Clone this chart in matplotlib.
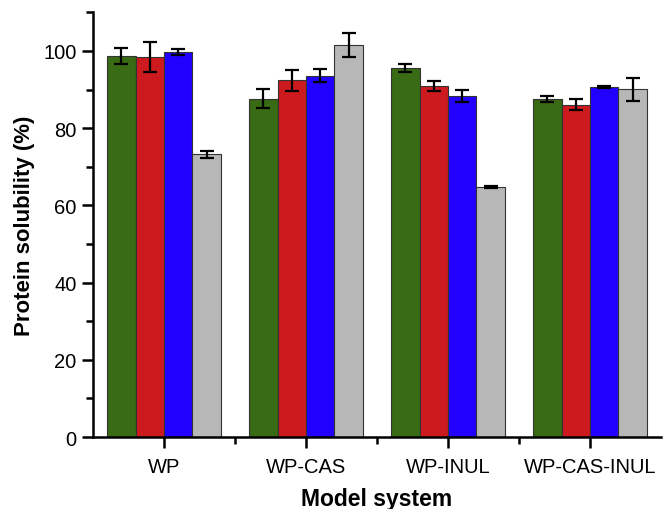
import matplotlib
matplotlib.use("Agg")
import matplotlib.pyplot as plt
import numpy as np
from matplotlib.ticker import FixedLocator

plt.rcParams['font.family'] = ['Liberation Sans', 'DejaVu Sans']

categories = ["WP", "WP-CAS", "WP-INUL", "WP-CAS-INUL"]
s1 = [98.7, 87.6, 95.5, 87.5]
s1_err = [2.0, 2.5, 1.0, 0.7]
s2 = [98.4, 92.4, 90.9, 86.1]
s2_err = [3.8, 2.7, 1.2, 1.5]
s3 = [99.7, 93.6, 88.3, 90.6]
s3_err = [0.7, 1.6, 1.6, 0.3]
s4 = [73.2, 101.5, 64.7, 90.1]
s4_err = [0.9, 3.2, 0.3, 3.0]

colors = ["#386b14", "#cc1a1e", "#2200ff", "#b7b7b7"]
series = [(s1, s1_err), (s2, s2_err), (s3, s3_err), (s4, s4_err)]

fig = plt.figure(figsize=(6.65, 5.10), dpi=100)
ax = fig.add_axes([0.140, 0.141, 0.854, 0.833])

x = np.arange(len(categories))
w = 0.2
for i, ((vals, errs), c) in enumerate(zip(series, colors)):
    ax.bar(x + (i - 1.5) * w, vals, width=w, color=c, edgecolor="#333333",
           linewidth=0.8, yerr=errs, capsize=5,
           error_kw=dict(ecolor="black", elinewidth=1.6, capthick=1.6), zorder=2)

ax.set_xlim(-0.5, 3.5)
ax.set_ylim(0, 110)
ax.set_xticks(x)
ax.set_xticklabels(categories, fontsize=14.5)
ax.xaxis.set_minor_locator(FixedLocator([0.5, 1.5, 2.5]))
ax.yaxis.set_major_locator(FixedLocator([0, 20, 40, 60, 80, 100]))
ax.yaxis.set_minor_locator(FixedLocator([10, 30, 50, 70, 90, 110]))
ax.tick_params(axis='y', labelsize=14.5)

for s in ["top", "right"]:
    ax.spines[s].set_visible(False)
for s in ["left", "bottom"]:
    ax.spines[s].set_linewidth(1.8)

ax.tick_params(which="major", direction="out", length=8, width=1.8)
ax.tick_params(which="minor", direction="out", length=5, width=1.8)
ax.tick_params(axis='x', which='major', pad=6)
ax.tick_params(axis='y', which='major', pad=4)

ax.set_ylabel("Protein solubility (%)", fontsize=16, fontweight="bold", labelpad=6)
ax.set_xlabel("Model system", fontsize=16.5, fontweight="bold", labelpad=8)

fig.savefig("out.png", dpi=100)
